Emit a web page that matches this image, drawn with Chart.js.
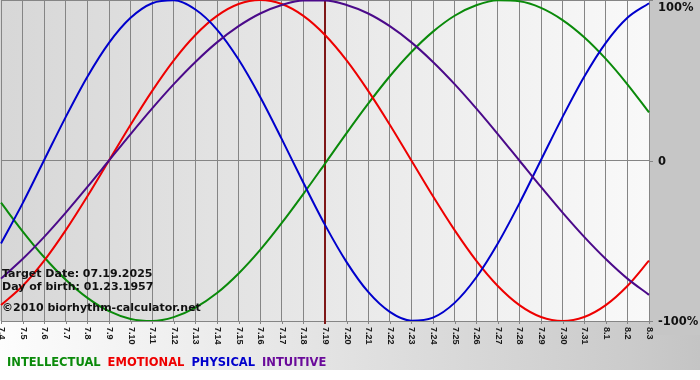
<!DOCTYPE html>
<html>
<head>
<meta charset="utf-8">
<script src="https://cdn.jsdelivr.net/npm/chart.js@4.4.0/dist/chart.umd.min.js"></script>
<style>
    html, body { margin: 0; padding: 0; background: #fff; }
    #wrap { width: 700px; height: 380px; }
</style>
</head>
<body>
<div id="wrap"><canvas id="chart-bio" width="700" height="380"></canvas></div>
<script>
// Days shown on the x axis (month.day)
const days = ['7.4', '7.5', '7.6', '7.7', '7.8', '7.9', '7.10', '7.11', '7.12', '7.13', '7.14',
    '7.15', '7.16', '7.17', '7.18', '7.19', '7.20', '7.21', '7.22', '7.23', '7.24', '7.25',
    '7.26', '7.27', '7.28', '7.29', '7.30', '7.31', '8.1', '8.2', '8.3'];

// Cycle values in percent
const intellectual = [-26.3, -44.1, -60.3, -74.3, -85.6, -93.9, -98.7, -100, -97.6, -91.7, -82.6,
    -70.4, -55.7, -38.9, -20.8, -1.9, 17.1, 35.4, 52.5, 67.6, 80.3, 90.2, 96.7, 99.8, 99.2, 95.1,
    87.5, 76.8, 63.3, 47.5, 30.0];
const emotional = [-90.1, -78.2, -62.4, -43.4, -22.3, 0, 22.3, 43.4, 62.4, 78.2, 90.1, 97.5, 100,
    97.5, 90.1, 78.2, 62.4, 43.4, 22.3, 0, -22.3, -43.4, -62.4, -78.2, -90.1, -97.5, -100, -97.5,
    -90.1, -78.2, -62.4];
const physical = [-51.7, -26.7, 0.3, 27.2, 52.2, 73.3, 88.9, 98.0, 99.8, 94.1, 81.6, 62.9, 39.6,
    13.3, -13.9, -40.1, -63.3, -81.9, -94.3, -99.8, -97.9, -88.7, -72.9, -51.7, -26.7, 0.3, 27.2,
    52.2, 73.3, 88.9, 98.0];
const intuitive = [-73.6, -61.4, -47.6, -32.5, -16.5, 0, 16.5, 32.5, 47.6, 61.4, 73.6, 83.7, 91.6,
    96.9, 99.7, 99.7, 96.9, 91.6, 83.7, 73.6, 61.4, 47.6, 32.5, 16.5, 0, -16.5, -32.5, -47.6,
    -61.4, -73.6, -83.7];

const yTicks = [100, 0, -100];
const yTickLabels = ['100%', '0', '-100%'];
const targetDay = '7.19';
const infoLines = ['Target Date: 07.19.2025', 'Day of birth: 01.23.1957', '\u00a92010 biorhythm-calculator.net'];
const legendNames = ['INTELLECTUAL', 'EMOTIONAL', 'PHYSICAL', 'INTUITIVE'];

const colors = {
    intellectual: '#0a8a0a',
    emotional: '#ee0000',
    physical: '#0000cc',
    intuitive: '#4b0a8a',
    legendPurple: '#6a0a9a',
    grid: '#858585',
    marker: '#7f1717'
};

// Backgrounds, marker line, axis labels, info text and legend
const decorPlugin = {
    id: 'decor',
    beforeDraw(chart) {
        const { ctx, chartArea: a, width, height } = chart;
        ctx.save();
        const bg = ctx.createLinearGradient(0, 0, width, 0);
        bg.addColorStop(0, '#fdfdfd');
        bg.addColorStop(0.9, '#cbcbcb');
        bg.addColorStop(1, '#c4c4c4');
        ctx.fillStyle = bg;
        ctx.fillRect(0, 0, width, 370);
        ctx.fillStyle = '#ffffff';
        ctx.fillRect(0, 370, width, height - 370);
        ctx.fillStyle = '#c6c6c6';
        ctx.fillRect(a.right + 1, 0, width - a.right, a.bottom + 14);

        const pg = ctx.createLinearGradient(a.left, 0, a.right, 0);
        pg.addColorStop(0, '#d7d7d7');
        pg.addColorStop(1, '#f9f9f9');
        ctx.fillStyle = pg;
        ctx.fillRect(0, a.top, a.right + 1, a.bottom - a.top);
        ctx.restore();
    },
    beforeDatasetsDraw(chart) {
        const { ctx, chartArea: a, scales } = chart;
        ctx.save();
        // small tick extensions
        ctx.strokeStyle = colors.grid;
        ctx.lineWidth = 1;
        days.forEach((d, i) => {
            const x = Math.round(scales.x.getPixelForValue(i)) + 0.5;
            ctx.beginPath();
            ctx.moveTo(x, a.bottom);
            ctx.lineTo(x, a.bottom + 3);
            ctx.stroke();
        });
        yTicks.forEach(v => {
            const y = Math.round(scales.y.getPixelForValue(v)) + 0.5;
            ctx.beginPath();
            ctx.moveTo(a.right, y);
            ctx.lineTo(a.right + 4, y);
            ctx.stroke();
        });
        // target day marker
        const mx = scales.x.getPixelForValue(days.indexOf(targetDay));
        ctx.strokeStyle = colors.marker;
        ctx.lineWidth = 2;
        ctx.beginPath();
        ctx.moveTo(mx, a.top);
        ctx.lineTo(mx, a.bottom + 3);
        ctx.stroke();
        ctx.restore();
    },
    afterDatasetsDraw(chart) {
        const { ctx, chartArea: a, scales } = chart;
        ctx.save();
        // x labels, rotated clockwise
        ctx.fillStyle = '#1a1a1a';
        ctx.font = 'bold 9px "Liberation Sans", Arial, sans-serif';
        ctx.textAlign = 'left';
        ctx.textBaseline = 'middle';
        days.forEach((d, i) => {
            const x = scales.x.getPixelForValue(i);
            ctx.save();
            ctx.translate(x + 0.5, a.bottom + 6);
            ctx.rotate(Math.PI / 2);
            ctx.fillText(d, 0, 0);
            ctx.restore();
        });
        // y labels on the right
        ctx.fillStyle = '#111';
        ctx.font = 'bold 11.5px "DejaVu Sans", Verdana, sans-serif';
        yTicks.forEach((v, i) => {
            const y = Math.max(scales.y.getPixelForValue(v), 7) + 1.5;
            ctx.fillText(yTickLabels[i], a.right + 9, y);
        });
        // info text
        ctx.font = 'bold 11px "DejaVu Sans", Verdana, sans-serif';
        ctx.textBaseline = 'alphabetic';
        ctx.fillStyle = '#111';
        const baselines = [277, 290, 311];
        infoLines.forEach((t, i) => ctx.fillText(t, 2, baselines[i]));
        // legend
        ctx.font = 'bold 11.5px "DejaVu Sans", Verdana, sans-serif';
        const legendColors = [colors.intellectual, colors.emotional, colors.physical, colors.legendPurple];
        let lx = 7;
        legendNames.forEach((t, i) => {
            ctx.fillStyle = legendColors[i];
            ctx.fillText(t, lx, 366);
            lx += ctx.measureText(t).width + 7;
        });
        ctx.restore();
    }
};

function makeSet(label, data, color) {
    return {
        label: label,
        data: data,
        borderColor: color,
        borderWidth: 2,
        pointRadius: 0,
        cubicInterpolationMode: 'monotone',
        fill: false
    };
}

new Chart(document.getElementById('chart-bio'), {
    type: 'line',
    data: {
        labels: days,
        datasets: [
            makeSet('Intuitive', intuitive, colors.intuitive),
            makeSet('Physical', physical, colors.physical),
            makeSet('Emotional', emotional, colors.emotional),
            makeSet('Intellectual', intellectual, colors.intellectual)
        ]
    },
    options: {
        responsive: false,
        animation: false,
        layout: { padding: { left: 1, right: 51, top: 0, bottom: 59 } },
        plugins: {
            legend: { display: false },
            tooltip: { enabled: false }
        },
        scales: {
            x: {
                type: 'category',
                offset: false,
                ticks: { display: false },
                grid: { color: colors.grid, lineWidth: 1, drawTicks: false },
                border: { display: false }
            },
            y: {
                min: -100,
                max: 100,
                ticks: { display: false, stepSize: 100 },
                grid: { color: colors.grid, lineWidth: 1, drawTicks: false },
                border: { display: false }
            }
        }
    },
    plugins: [decorPlugin]
});
</script>
</body>
</html>
